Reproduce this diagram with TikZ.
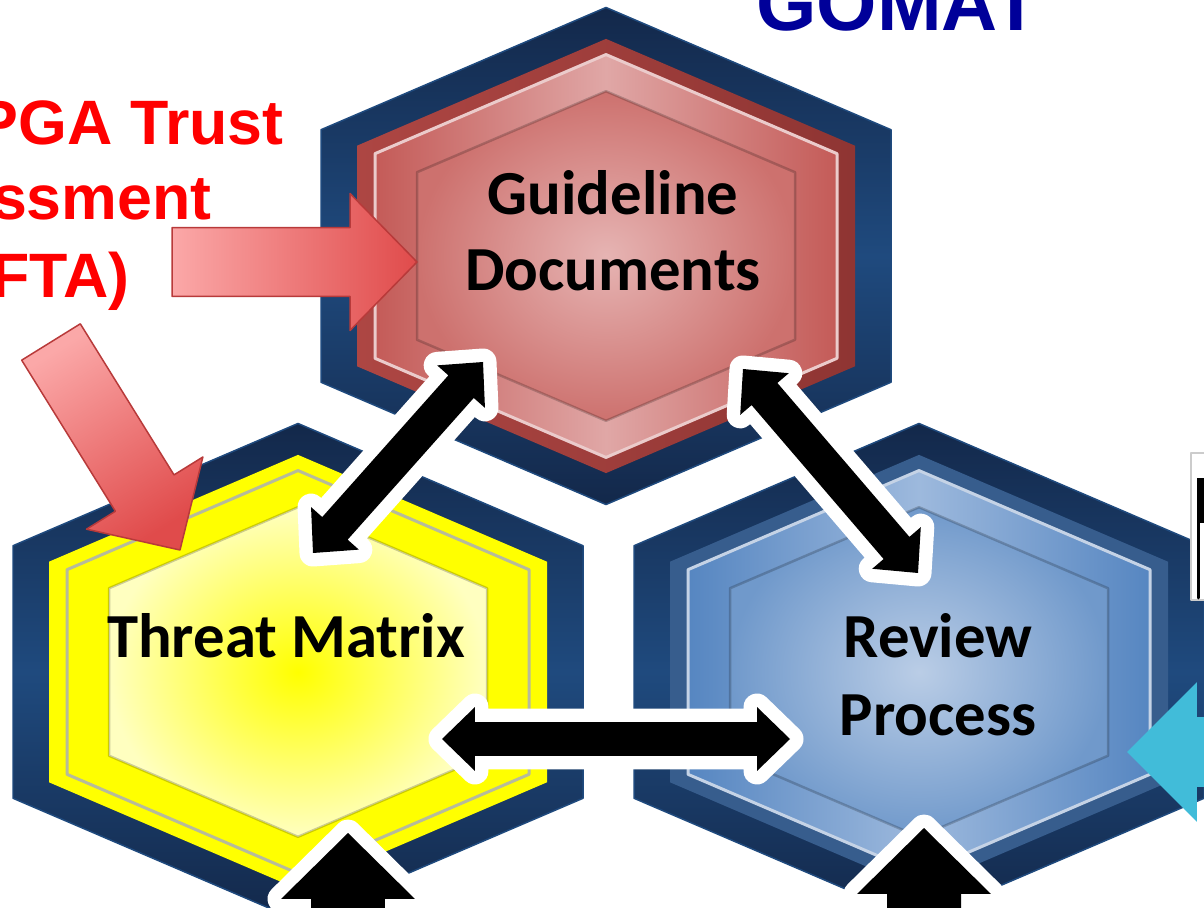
\documentclass[tikz,border=0pt]{standalone}
\usepackage{fontspec}
\newfontfamily\calfont{Carlito}
\newfontfamily\arifont{Liberation Sans}
\usetikzlibrary{calc}
\definecolor{navyD}{HTML}{13284A}
\definecolor{navyL}{HTML}{1F4A7E}
\definecolor{redD}{HTML}{AD4643}
\definecolor{redM}{HTML}{8F3533}
\definecolor{redS}{HTML}{C45B58}
\definecolor{redP}{HTML}{E0A7A6}
\definecolor{redL}{HTML}{E6B4B3}
\definecolor{redI}{HTML}{CD716E}
\definecolor{rimR}{HTML}{EBCBCB}
\definecolor{yelS}{HTML}{FFFF00}
\definecolor{yelP}{HTML}{FFFFC0}
\definecolor{rimY}{HTML}{B7BB9B}
\definecolor{bluD}{HTML}{375D8D}
\definecolor{bluS}{HTML}{5686C1}
\definecolor{bluP}{HTML}{9DB9DD}
\definecolor{bluL}{HTML}{BACDE6}
\definecolor{bluI}{HTML}{7099CB}
\definecolor{rimB}{HTML}{C5D3E6}
\definecolor{pinkL}{HTML}{FBA8A8}
\definecolor{pinkD}{HTML}{E04B4B}
\definecolor{pinkE}{HTML}{B83A3A}
\definecolor{cyanA}{HTML}{41BCD9}
\definecolor{gomat}{HTML}{000099}
\tikzset{
  every picture/.style={line join=round, line cap=round},
  lbl/.style={font=\calfont\bfseries\fontsize{35.7}{43.6}\selectfont, anchor=base, inner sep=0pt},
  ttl/.style={font=\arifont\bfseries\fontsize{35.7}{43.6}\selectfont, text=red, anchor=base east, inner sep=0pt},
  shell/.style={top color=navyD, bottom color=navyD, middle color=navyL, draw=navyL, line width=0.03cm},
  rim/.style={draw=#1, line width=0.06cm},
  bevel/.style={draw=black, draw opacity=0.2, line width=0.05cm},
  halo/.style={fill=white, draw=white, line width=0.54cm},
  blk/.style={fill=black},
  redband/.style={left color=redD, right color=redM},
  redface/.style={left color=redS, right color=redS, middle color=redP},
  redcore/.style={inner color=redL, outer color=redI, bevel},
  yelband/.style={fill=yelS},
  yelcore/.style={inner color=yelS, outer color=yelP, bevel},
  bluband/.style={fill=bluD},
  bluface/.style={left color=bluS, right color=bluS, middle color=bluP},
  blucore/.style={inner color=bluL, outer color=bluI, bevel},
  pinkarrow/.style={left color=pinkL, right color=pinkD, draw=pinkE, line width=0.03cm},
  pinkdiag/.style={top color=pinkL, bottom color=pinkD, shading angle=32, draw=pinkE, line width=0.03cm},
}
\newcommand\hexa[3]{\path[#1,shift={(#2)}] (0,{-0.872*#3}) -- ({#3},{-0.443*#3}) -- ({#3},{0.443*#3}) -- (0,{0.872*#3}) -- ({-#3},{0.443*#3}) -- ({-#3},{-0.443*#3}) -- cycle;}
\newcommand\twohead[6]{\path[#1] (#2) -- ($(#2)!#4!(#3)!#5!90:(#3)$) -- ($(#2)!#4!(#3)!#6!90:(#3)$) -- ($(#3)!#4!(#2)!#6!-90:(#2)$) -- ($(#3)!#4!(#2)!#5!-90:(#2)$) -- (#3) -- ($(#3)!#4!(#2)!#5!90:(#2)$) -- ($(#3)!#4!(#2)!#6!90:(#2)$) -- ($(#2)!#4!(#3)!#6!-90:(#3)$) -- ($(#2)!#4!(#3)!#5!-90:(#3)$) -- cycle;}
\newcommand\onehead[6]{\path[#1] ($(#2)!#6!90:(#3)$) -- ($(#3)!#4!(#2)!#6!-90:(#2)$) -- ($(#3)!#4!(#2)!#5!-90:(#2)$) -- (#3) -- ($(#3)!#4!(#2)!#5!90:(#2)$) -- ($(#3)!#4!(#2)!#6!90:(#2)$) -- ($(#2)!#6!-90:(#3)$) -- cycle;}

\begin{document}
\begin{tikzpicture}[x=0.02cm, y=-0.02cm]
\useasboundingbox (0,0) rectangle (1204,908);
\clip (0,0) rectangle (1204,908);
\coordinate (guide) at (606,256);
\coordinate (threat) at (298,672);
\coordinate (review) at (919,672);

\foreach \c in {guide,threat,review} {\hexa{shell}{\c}{285}}
\hexa{redband}{guide}{249}
\hexa{redface}{guide}{231}
\hexa{rim=rimR}{guide}{231}
\hexa{redcore}{guide}{189}
\hexa{yelband}{threat}{249}
\hexa{yelband}{threat}{231}
\hexa{rim=rimY}{threat}{231}
\hexa{yelcore}{threat}{189}
\hexa{bluband}{review}{249}
\hexa{bluface}{review}{231}
\hexa{rim=rimB}{review}{231}
\hexa{blucore}{review}{189}

\node[lbl] (guideA) at (613,215) {Guideline};
\node[lbl] (guideB) at (613,291) {Documents};
\node[lbl] (threatA) at (286,658) {Threat Matrix};
\node[lbl] (reviewA) at (938,658) {Review};
\node[lbl] (reviewB) at (938,735) {Process};

\node[ttl] (ftaA) at (284,145) {PGA Trust};
\node[ttl] (ftaB) at (212,220) {ssment};
\node[ttl] (ftaC) at (130,298) {FTA)};
\node[font=\arifont\bfseries\fontsize{44.2}{50}\selectfont, text=gomat, anchor=base, inner sep=0pt] (gomat) at (898,31) {GOMAT};

\coordinate (fpA) at (172,262);
\coordinate (fpB) at (417,262);
\coordinate (fqA) at (51,342);
\coordinate (fqB) at (180,550);
\onehead{pinkarrow}{fpA}{fpB}{1.34cm}{1.37cm}{0.69cm}
\onehead{pinkdiag}{fqA}{fqB}{1.34cm}{1.37cm}{0.69cm}

\coordinate (gT) at (483,362);
\coordinate (tG) at (313,553);
\coordinate (gR) at (743,369);
\coordinate (rG) at (918,573);
\coordinate (tR) at (442,739);
\coordinate (rT) at (790,739);
\coordinate (tB) at (348,833);
\coordinate (tBend) at (348,960);
\coordinate (rB) at (924,828);
\coordinate (rBend) at (924,960);
\foreach \a/\b in {tG/gT, gR/rG, tR/rT} {
  \twohead{halo}{\a}{\b}{0.66cm}{0.64cm}{0.34cm}
  \twohead{blk}{\a}{\b}{0.66cm}{0.64cm}{0.34cm}
}
\foreach \a/\b in {tBend/tB, rBend/rB} {
  \onehead{halo}{\a}{\b}{1.32cm}{1.34cm}{0.74cm}
  \onehead{blk}{\a}{\b}{1.32cm}{1.34cm}{0.74cm}
}

\coordinate (cyTip) at (1127,752);
\coordinate (cyEnd) at (1300,752);
\onehead{fill=cyanA}{cyEnd}{cyTip}{1.4cm}{1.4cm}{0.7cm}

\path[fill=white, draw=black!20, line width=0.04cm] (1191,453) rectangle (1215,600);
\path[fill=black] (1197,478) rectangle (1215,523);
\path[draw=black, line width=0.06cm] (1198,523) -- (1198,598);
\end{tikzpicture}
\end{document}
